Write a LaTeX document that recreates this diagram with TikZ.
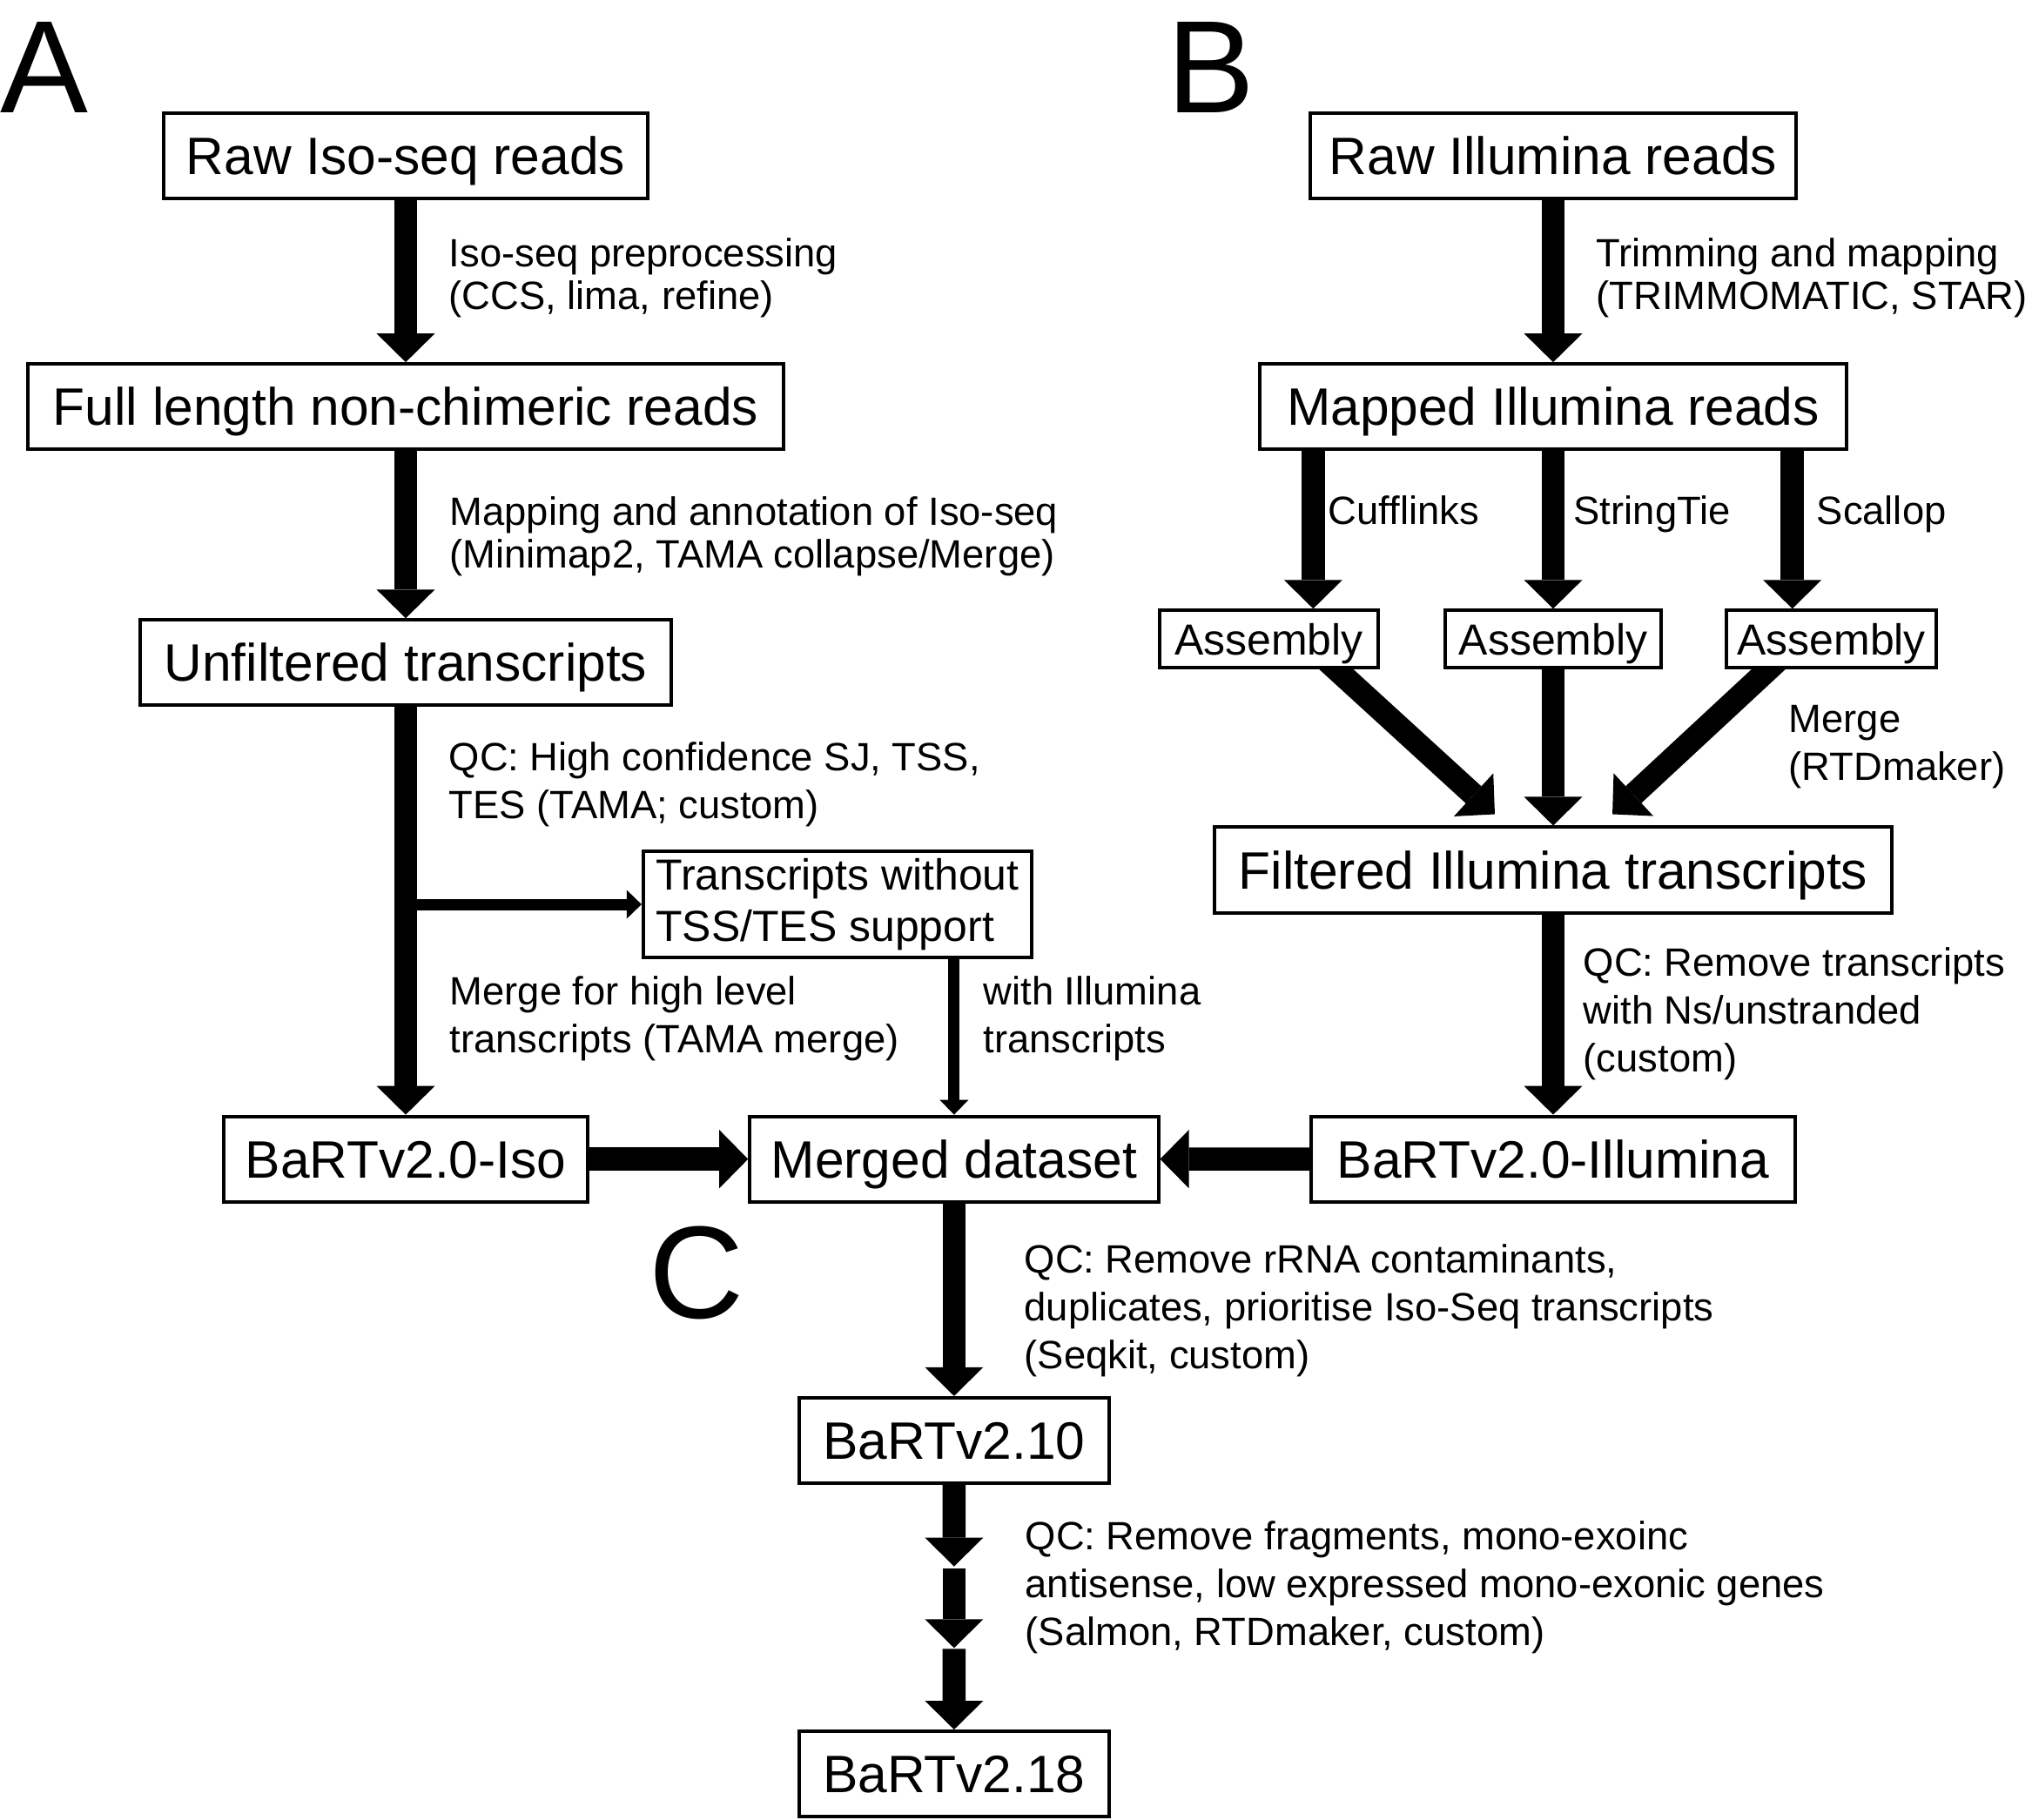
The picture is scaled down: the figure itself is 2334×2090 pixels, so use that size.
\documentclass[tikz,border=0pt]{standalone}
\usepackage{fontspec}
\setmainfont{Liberation Sans}
\usetikzlibrary{arrows.meta,calc,positioning,backgrounds}

\begin{document}
\begin{tikzpicture}[x=0.01cm, y=-0.01cm,
    every node/.style={inner sep=0pt},
    stepbox/.style={draw, line width=0.04cm, fill=white, minimum height=0.98cm, text height=12.3pt, text depth=0pt, font=\fontsize{17.2}{20}\selectfont},
    toolbox/.style={draw, line width=0.04cm, fill=white, font=\fontsize{14.2}{16.9}\selectfont},
    note/.style={anchor=north west, align=left, font=\fontsize{12.9}{15.6}\selectfont},
    tightnote/.style={note, font=\fontsize{12.9}{13.8}\selectfont},
    panel/.style={anchor=base west, font=\fontsize{43}{46}\selectfont},
    flow/.style={line width=0.265cm, -{Triangle[width=0.67cm, length=0.33cm, line width=0pt]}},
    thinflow/.style={line width=0.13cm, -{Triangle[width=0.33cm, length=0.17cm, line width=0pt]}},
]
    \useasboundingbox (0,0) rectangle (2334,2090);

    % A: Iso-seq branch
    \node[stepbox, minimum width=5.56cm] (rawiso) at (466,179) {Raw Iso-seq reads};
    \node[stepbox, minimum width=8.68cm, below=1.86cm of rawiso] (fulllen) {Full length non-chimeric reads};
    \node[stepbox, minimum width=6.09cm, below=1.92cm of fulllen] (unfilt) {Unfiltered transcripts};
    \node[stepbox, minimum width=4.18cm, below=4.68cm of unfilt] (bartiso) {BaRTv2.0-Iso};
    \node[toolbox, align=left, minimum width=4.46cm, minimum height=1.22cm] (nosupport) at (962,1039) {Transcripts without\\TSS/TES support};

    % B: Illumina branch
    \node[stepbox, minimum width=5.58cm] (rawill) at (1784,179) {Raw Illumina reads};
    \node[stepbox, minimum width=6.73cm, below=1.86cm of rawill] (mapped) {Mapped Illumina reads};
    \node[toolbox, minimum width=2.48cm, minimum height=0.66cm, text height=10.2pt, text depth=0pt, below=1.81cm of mapped] (asm2) {Assembly};
    \node[toolbox, minimum width=2.51cm, minimum height=0.66cm, text height=10.2pt, text depth=0pt, left=0.73cm of asm2] (asm1) {Assembly};
    \node[toolbox, minimum width=2.41cm, minimum height=0.66cm, text height=10.2pt, text depth=0pt, right=0.71cm of asm2] (asm3) {Assembly};
    \node[stepbox, minimum width=7.78cm, below=1.79cm of asm2] (filtered) {Filtered Illumina transcripts};
    \node[stepbox, minimum width=5.56cm, below=2.30cm of filtered] (bartill) {BaRTv2.0-Illumina};

    % C: merge and filtering
    \node[stepbox, minimum width=4.69cm, right=1.82cm of bartiso] (merged) {Merged dataset};
    \node[stepbox, minimum width=3.56cm, below=2.21cm of merged] (bart210) {BaRTv2.10};
    \node[stepbox, minimum width=3.56cm, below=2.81cm of bart210] (bart218) {BaRTv2.18};

    \node[panel] (panelA) at (0,129) {A};
    \node[panel] (panelB) at (1340,129) {B};
    \node[panel] (panelC) at (745,1514) {C};

    % arrows
    \draw[flow] (rawiso) -- (fulllen);
    \draw[flow] (fulllen) -- (unfilt);
    \draw[flow] (unfilt) -- (bartiso);
    \coordinate (branch) at (unfilt.south |- nosupport.west);
    \draw[thinflow] (branch) -- (nosupport);
    \draw[thinflow] (nosupport.south -| merged.north) -- (merged.north);
    \draw[flow] (bartiso) -- (merged);
    \draw[flow] (bartill) -- (merged);

    \draw[flow] (rawill) -- (mapped);
    \coordinate (cuffin) at ([xshift=0.63cm]mapped.south west);
    \coordinate (scallin) at ([xshift=-0.64cm]mapped.south east);
    \draw[flow] (cuffin) -- (cuffin |- asm1.north);
    \draw[flow] (mapped) -- (asm2);
    \draw[flow] (scallin) -- (scallin |- asm3.north);
    \draw[flow] (asm2) -- (filtered);
    \draw[flow] (filtered) -- (bartill);

    \draw[flow] (merged) -- (bart210);
    \coordinate (qcA) at ($(bart210.south)!1/3!(bart218.north)$);
    \coordinate (qcB) at ($(bart210.south)!2/3!(bart218.north)$);
    \draw[flow] (bart210) -- (qcA);
    \draw[flow] ([yshift=-0.02cm]qcA) -- (qcB);
    \draw[flow] ([yshift=-0.01cm]qcB) -- (bart218);

    \begin{scope}[on background layer]
        \fill[white] (0,0) rectangle (2334,2090);
        \draw[flow] ([xshift=0.67cm, yshift=0.1cm]asm1.south) -- ([xshift=-0.67cm, yshift=0.13cm]filtered.north);
        \draw[flow] ([xshift=-0.62cm, yshift=0.1cm]asm3.south) -- ([xshift=0.68cm, yshift=0.13cm]filtered.north);
    \end{scope}

    % labels
    \node[tightnote] (isoprep) at (515,273) {Iso-seq preprocessing\\(CCS, lima, refine)};
    \node[tightnote] (mapnote) at (516,570) {Mapping and annotation of Iso-seq\\(Minimap2, TAMA collapse/Merge)};
    \node[note] (qciso) at (515,852) {QC: High confidence SJ, TSS,\\TES (TAMA; custom)};
    \node[note] (mergeiso) at (516,1121) {Merge for high level\\transcripts (TAMA merge)};
    \node[note] (withill) at (1129,1121) {with Illumina\\transcripts};
    \node[tightnote] (trimnote) at (1833,273) {Trimming and mapping\\(TRIMMOMATIC, STAR)};
    \node[note] (cufflinks) at (1525,569) {Cufflinks};
    \node[note] (stringtie) at (1807,569) {StringTie};
    \node[note] (scallop) at (2086,569) {Scallop};
    \node[note] (mergeill) at (2054,810) {Merge\\(RTDmaker)};
    \node[note] (qcill) at (1818,1088) {QC: Remove transcripts\\with Ns/unstranded\\(custom)};
    \node[note] (qcmerged) at (1176,1429) {QC: Remove rRNA contaminants,\\duplicates, prioritise Iso-Seq transcripts\\(Seqkit, custom)};
    \node[note] (qcfinal) at (1177,1747) {QC: Remove fragments, mono-exoinc\\antisense, low expressed mono-exonic genes\\(Salmon, RTDmaker, custom)};
\end{tikzpicture}
\end{document}
